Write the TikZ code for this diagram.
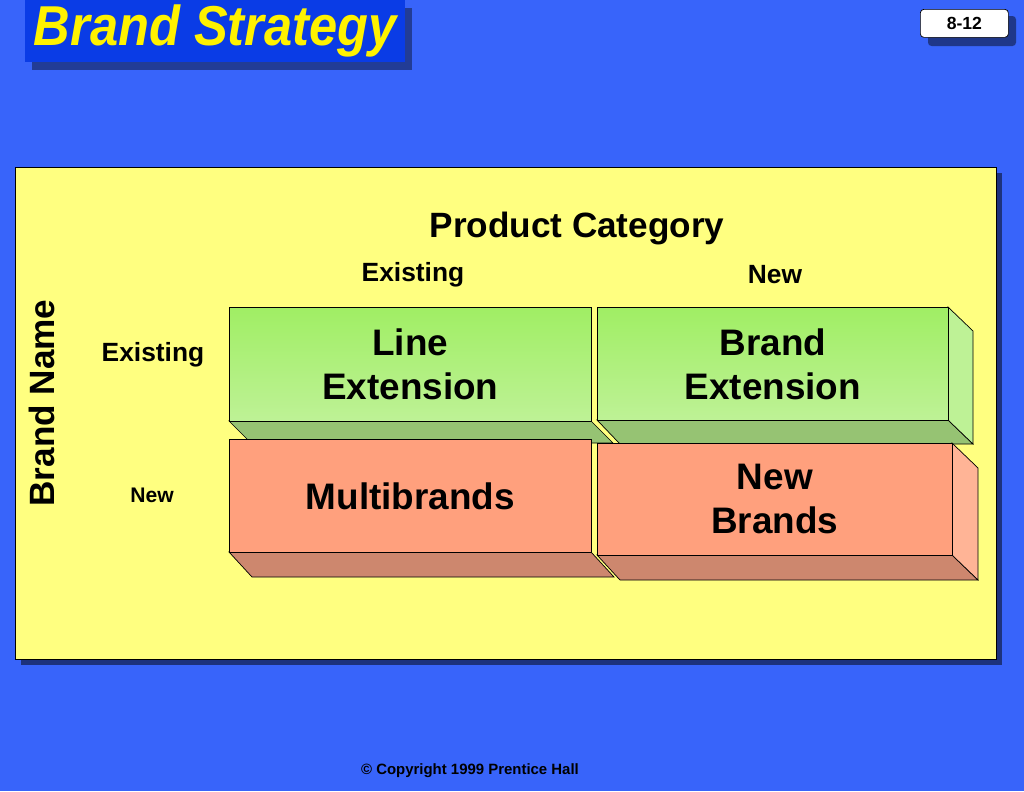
\documentclass[tikz,border=0pt]{standalone}
\usepackage{fontspec}
\setmainfont{Liberation Sans}
\usetikzlibrary{positioning}
\definecolor{bgblue}{RGB}{56,100,250}
\definecolor{titleblue}{RGB}{10,60,230}
\definecolor{panel}{RGB}{255,255,128}
\definecolor{greentop}{RGB}{160,238,100}
\definecolor{greenbot}{RGB}{190,242,150}
\definecolor{greenside}{RGB}{150,195,115}
\definecolor{redfront}{RGB}{255,160,125}
\definecolor{redside}{RGB}{205,135,110}
\definecolor{redright}{RGB}{255,180,150}
\begin{document}
\begin{tikzpicture}
  [
    x=0.02cm, y=-0.02cm,
    Front/.style={draw=black, anchor=north west, inner sep=0pt, align=center, font=\bfseries\fontsize{21}{25}\selectfont},
    Green/.style={Front, top color=greentop, bottom color=greenbot},
    Red/.style={Front, fill=redfront},
    Face/.style={draw=black},
    Label/.style={font=\bfseries\fontsize{15}{18}\selectfont}
  ]
  % Background
  \fill[bgblue] (0,0) rectangle (1024,791);
  \useasboundingbox (0,0) rectangle (1024,791);
  \fill[black!40!bgblue] (32,8) rectangle (412,70);
  \node[fill=titleblue, anchor=north west, minimum width=380*0.02cm, minimum height=62*0.02cm, inner sep=0pt,
    font=\bfseries\itshape\fontsize{32}{36}\selectfont, text=yellow] (title) at (25,0) {\scalebox{0.9}[1]{Brand Strategy}};
  \fill[black!45!bgblue, rounded corners=2pt] (928,16) rectangle (1016,46);
  \node[draw=black, fill=white, rounded corners=2pt, anchor=north west, minimum width=88*0.02cm, minimum height=28*0.02cm,
    inner sep=0pt, font=\bfseries\fontsize{10}{12}\selectfont] (page) at (920,9) {8-12};

  % Panel
  \fill[black!50!bgblue] (21,173) rectangle (1002,665);
  \node[draw=black, fill=panel, anchor=north west, minimum width=981*0.02cm, minimum height=492*0.02cm, inner sep=0pt] (panel) at (15,167) {};

  % Labels
  \node[font=\bfseries\fontsize{20}{24}\selectfont] (cat) at (577,228) {Product Category};
  \node[Label] (colA) at (413,275) {Existing};
  \node[Label] (colB) at (775,275) {New};
  \node[font=\bfseries\fontsize{20}{24}\selectfont, rotate=90] (brand) at (42,403) {Brand Name};
  \node[Label] (rowA) at (153,355) {Existing};
  \node[font=\bfseries\fontsize{12}{14}\selectfont] (rowB) at (152,495) {New};

  % Boxes
  \fill[greenside, draw=black] (229,421) -- (591,421) -- (613,443) -- (251,443) -- cycle;
  \node[Green, minimum width=362*0.02cm, minimum height=114*0.02cm] (line) at (229,307) {Line\\Extension};
  \fill[greenside, draw=black] (597,420) -- (948,420) -- (973,444) -- (620,444) -- cycle;
  \fill[greenbot, draw=black] (948,307) -- (973,331) -- (973,444) -- (948,420) -- cycle;
  \node[Green, minimum width=351*0.02cm, minimum height=113*0.02cm] (bext) at (597,307) {Brand\\Extension};
  \fill[redside, draw=black] (229,552) -- (591,552) -- (614,577) -- (252,577) -- cycle;
  \node[Red, minimum width=362*0.02cm, minimum height=113*0.02cm] (multi) at (229,439) {Multibrands};
  \fill[redside, draw=black] (597,555) -- (952,555) -- (978,580) -- (620,580) -- cycle;
  \fill[redright, draw=black] (952,443) -- (978,468) -- (978,580) -- (952,555) -- cycle;
  \node[Red, minimum width=355*0.02cm, minimum height=112*0.02cm] (newb) at (597,443) {New\\Brands};

  % Footer
  \node[font=\bfseries\fontsize{8.5}{10}\selectfont] (copy) at (470,771) {\textcopyright\ Copyright 1999 Prentice Hall};
\end{tikzpicture}
\end{document}
